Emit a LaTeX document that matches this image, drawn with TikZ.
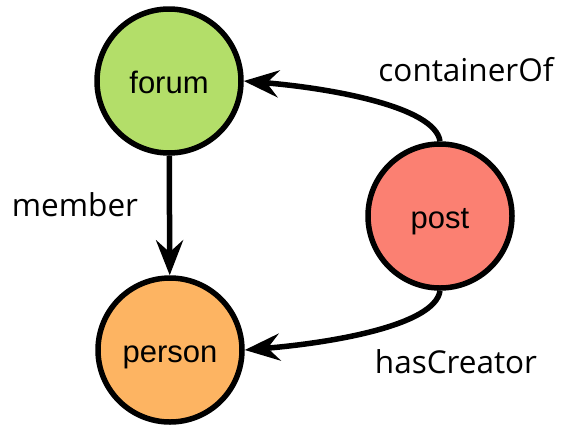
\documentclass[tikz,border=0pt]{standalone}
\usepackage{fontspec}
\setmainfont{Open Sans}
\newfontfamily\nodefont{Liberation Sans}
\usetikzlibrary{arrows.meta}
\definecolor{forumgreen}{HTML}{B3DE69}
\definecolor{personorange}{HTML}{FDB462}
\definecolor{postred}{HTML}{FB8072}
\begin{document}
\begin{tikzpicture}[x=1pt,y=-1pt,
  vert/.style={circle, draw=black, line width=5.5pt, minimum size=144pt, inner sep=0pt, text height=24pt, text depth=0pt, font=\nodefont\fontsize{31}{33}\selectfont},
  edge/.style={line width=5.5pt, -{Stealth[length=35pt,width=27pt,inset=12pt]}},
  lab/.style={font=\fontsize{31.5}{34}\selectfont}]
\useasboundingbox (0,0) rectangle (564,424);
\node[vert, fill=forumgreen] (forum) at (169,81) {forum};
\node[vert, fill=personorange] (person) at (170,350) {person};
\node[vert, fill=postred] (post) at (440,216) {post};
\draw[edge] (forum) -- (person);
\draw[edge] (post.north) .. controls +(-5,-35) and +(85,7) .. (forum.east);
\draw[edge] (post.south) .. controls +(-5,35) and +(85,-7) .. (person.east);
\node[lab] (lc) at (466,70) {containerOf};
\node[lab] (lm) at (75,205) {member};
\node[lab] (lh) at (456,362) {hasCreator};
\end{tikzpicture}
\end{document}
